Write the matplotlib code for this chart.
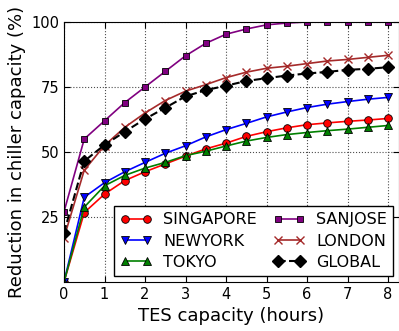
import numpy as np
from matplotlib import pyplot as plt

hours = [0, 0.5, 1, 1.5, 2, 2.5, 3, 3.5, 4, 4.5, 5, 5.5, 6, 6.5, 7, 7.5, 8]

singapore = [0, 26.7, 33.8, 39, 42.4, 45.4, 48.4, 51.2, 53.4, 56, 57.8, 59.3, 60.5, 61.2, 61.8, 62.3, 62.9]
newyork = [0, 32.6, 38.2, 42.4, 46, 49.5, 52.4, 55.8, 58.6, 61, 63.5, 65.4, 67.1, 68.4, 69.4, 70.3, 71]
tokyo = [0, 28.8, 37, 41, 43.8, 46, 48.6, 50.3, 52.3, 54.2, 55.6, 56.7, 57.5, 58.2, 58.8, 59.5, 60.2]
sanjose = [27, 55, 62, 69, 75, 81, 87, 91.8, 95.3, 97.3, 98.9, 99.6, 100, 100, 100, 100, 100]
london = [17, 43, 52.5, 59.5, 65, 69.8, 73.4, 75.9, 78.6, 80.7, 82.2, 83, 84, 85, 85.6, 86.4, 87.2]
glob = [19, 46.5, 52.7, 57.8, 62.7, 67, 71.4, 73.8, 75.5, 77.3, 78.4, 79.4, 80.2, 80.8, 81.6, 82, 82.6]

plt.rcParams['font.family'] = 'DejaVu Sans'
plt.rcParams['xtick.direction'] = 'in'
plt.rcParams['ytick.direction'] = 'in'

fig = plt.figure(figsize=(3.99, 3.31), dpi=100)
ax = fig.add_axes([64/399., 49/331., 335/399., 260/331.])

ax.plot(hours, singapore, 'r-o', lw=1.2, ms=5.5, mec='k', mew=0.6, label='SINGAPORE')
ax.plot(hours, newyork, 'b-v', lw=1.2, ms=5.5, mec='k', mew=0.6, label='NEWYORK')
ax.plot(hours, tokyo, '-^', color='green', lw=1.2, ms=5.5, mec='k', mew=0.6, label='TOKYO')
ax.plot(hours, sanjose, '-s', color='purple', lw=1.2, ms=5, mec='k', mew=0.6, label='SANJOSE')
ax.plot(hours, london, '-x', color='brown', lw=1.2, ms=6, mew=1.0, label='LONDON')
ax.plot(hours, glob, 'k--D', lw=1.5, ms=6, label='GLOBAL')

ax.set_xlim(0, 8.27)
ax.set_ylim(0, 100)
ax.set_xticks(range(0, 9))
ax.set_yticks([25, 50, 75, 100])
ax.tick_params(labelsize=10.5, top=True, right=True, length=4)
ax.grid(ls=':', color='0.3', lw=0.8)
ax.set_axisbelow(True)
ax.set_xlabel('TES capacity (hours)', fontsize=13)
ax.set_ylabel('Reduction in chiller capacity (%)', fontsize=13)

leg = ax.legend(ncol=2, loc='lower right', fontsize=11.5, numpoints=2, fancybox=False,
                framealpha=1, edgecolor='k', borderaxespad=0.35, columnspacing=1.0,
                handlelength=2.0, handletextpad=0.7, labelspacing=0.4)
leg.get_frame().set_linewidth(1.0)

fig.savefig('out.png', dpi=100)
